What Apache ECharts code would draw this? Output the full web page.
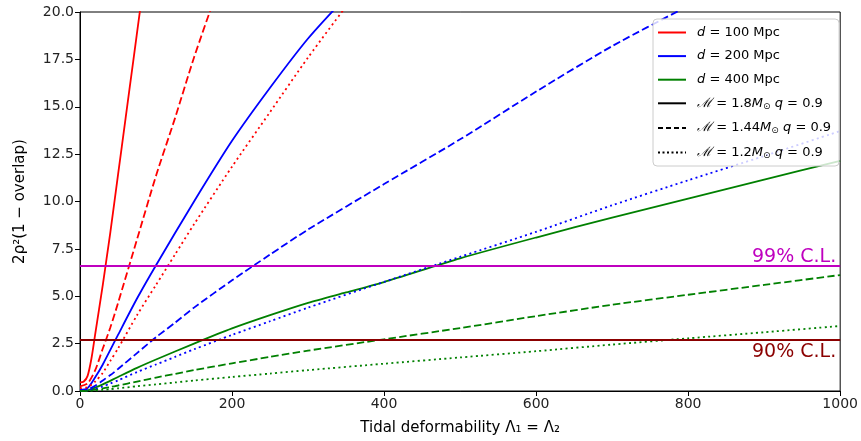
<!DOCTYPE html>
<html>
<head>
<meta charset="utf-8">
<script src="https://cdn.jsdelivr.net/npm/echarts@6/dist/echarts.min.js"></script>
<style>html,body{margin:0;padding:0;background:#fff}#c{width:861px;height:441px}</style>
</head>
<body>
<div id="c"></div>
<script>
// ---- data ----
var xTicks = [0, 200, 400, 600, 800, 1000];
var yTicks = [0, 2.5, 5, 7.5, 10, 12.5, 15, 17.5, 20];

// M = 1.8 Msun (solid)
var redSolidX   = [0, 5, 10, 15, 20, 25, 30, 35, 40, 50, 60, 70, 80];
var redSolidY   = [0.45, 0.5, 0.8, 1.7, 3.0, 4.3, 5.6, 7.0, 8.4, 11.4, 14.4, 17.4, 20.4];
var blueSolidX  = [0, 10, 20, 30, 50, 75, 100, 150, 200, 250, 300, 350];
var blueSolidY  = [0.05, 0.15, 0.72, 1.4, 2.96, 4.88, 6.64, 10.0, 13.2, 16.0, 18.6, 20.8];
var greenSolidX = [0, 10, 20, 30, 50, 75, 100, 150, 200, 250, 300, 350, 400, 500, 600, 700, 800, 900, 1000];
var greenSolidY = [0, 0.03, 0.18, 0.35, 0.74, 1.22, 1.66, 2.5, 3.3, 4.0, 4.65, 5.2, 5.75, 7.0, 8.1, 9.15, 10.15, 11.15, 12.15];

// M = 1.44 Msun (dashed)
var redDashX    = [0, 10, 20, 30, 40, 50, 75, 100, 125, 150, 175];
var redDashY    = [0.25, 0.4, 1.1, 2.24, 3.36, 4.64, 8.0, 11.36, 14.4, 17.6, 20.5];
var blueDashX   = [0, 10, 20, 30, 40, 50, 75, 100, 125, 150, 200, 250, 300, 400, 500, 600, 700, 800];
var blueDashY   = [0.03, 0.08, 0.28, 0.56, 0.84, 1.16, 2.0, 2.84, 3.6, 4.4, 5.84, 7.2, 8.52, 10.92, 13.28, 15.8, 18.2, 20.32];
var greenDashX  = [0, 10, 20, 30, 40, 50, 75, 100, 125, 150, 200, 250, 300, 400, 500, 600, 700, 800, 900, 1000];
var greenDashY  = [0, 0.02, 0.07, 0.14, 0.21, 0.29, 0.5, 0.71, 0.9, 1.1, 1.46, 1.8, 2.13, 2.73, 3.32, 3.95, 4.55, 5.08, 5.6, 6.12];

// M = 1.2 Msun (dotted)
var redDotX     = [0, 10, 20, 30, 40, 50, 75, 100, 125, 150, 200, 250, 300, 350];
var redDotY     = [0.15, 0.2, 0.5, 0.96, 1.6, 2.24, 4.0, 5.6, 7.2, 8.8, 11.84, 14.72, 17.6, 20.3];
var blueDotX    = [0, 10, 20, 30, 40, 50, 75, 100, 125, 150, 200, 250, 300, 400, 500, 600, 700, 800, 900, 1000];
var blueDotY    = [0.02, 0.04, 0.12, 0.24, 0.4, 0.56, 1.0, 1.4, 1.8, 2.2, 2.96, 3.68, 4.4, 5.76, 7.08, 8.4, 9.8, 11.12, 12.4, 13.72];
var greenDotX   = [0, 10, 20, 30, 40, 50, 75, 100, 125, 150, 200, 250, 300, 400, 500, 600, 700, 800, 900, 1000];
var greenDotY   = [0, 0.01, 0.03, 0.06, 0.1, 0.14, 0.25, 0.35, 0.45, 0.55, 0.74, 0.92, 1.1, 1.44, 1.77, 2.1, 2.45, 2.78, 3.1, 3.43];

// confidence levels
var clValues = [6.63, 2.71];
var clLabels = ['99% C.L.', '90% C.L.'];

var legendNames = ['d = 100 Mpc', 'd = 200 Mpc', 'd = 400 Mpc',
                   'M = 1.8 q = 0.9', 'M = 1.44 q = 0.9', 'M = 1.2 q = 0.9'];
var legendRich = [
  '{i|d} = 100 Mpc', '{i|d} = 200 Mpc', '{i|d} = 400 Mpc',
  '{m|ℳ} = 1.8{i|M}{s|⊙} {i|q} = 0.9',
  '{m|ℳ} = 1.44{i|M}{s|⊙} {i|q} = 0.9',
  '{m|ℳ} = 1.2{i|M}{s|⊙} {i|q} = 0.9'
];

// ---- styles ----
var RED = '#ff0000', BLUE = '#0000ff', GREEN = '#008000';
var DASH = [7.5, 3.3], DOT = [2, 3.3];
var LW = 1.8;

function pairs(xs, ys) { return xs.map(function (x, i) { return [x, ys[i]]; }); }
function curve(name, xs, ys, color, type) {
  return {
    name: name, type: 'line', data: pairs(xs, ys), showSymbol: false, symbol: 'none',
    smooth: 0.25, clip: true, silent: true,
    lineStyle: { color: color, width: LW, type: type, cap: 'butt' }, z: 3
  };
}
function legendOnly(name, color, type) {
  return {
    name: name, type: 'line', data: [], symbol: 'none', showSymbol: false,
    itemStyle: { color: color },
    lineStyle: { color: color, width: 2, type: type }
  };
}

var series = [
  curve('r1', redSolidX, redSolidY, RED, 'solid'),
  curve('b1', blueSolidX, blueSolidY, BLUE, 'solid'),
  curve('g1', greenSolidX, greenSolidY, GREEN, 'solid'),
  curve('r2', redDashX, redDashY, RED, DASH),
  curve('b2', blueDashX, blueDashY, BLUE, DASH),
  curve('g2', greenDashX, greenDashY, GREEN, DASH),
  curve('r3', redDotX, redDotY, RED, DOT),
  curve('b3', blueDotX, blueDotY, BLUE, DOT),
  curve('g3', greenDotX, greenDotY, GREEN, DOT),
  {
    name: 'cl', type: 'line', data: [], silent: true,
    markLine: {
      symbol: 'none', silent: true, animation: false,
      data: [
        { yAxis: clValues[0], lineStyle: { color: '#bf00bf', width: LW, type: 'solid' },
          label: { show: true, formatter: clLabels[0], position: 'insideEndTop', color: '#bf00bf',
                   fontSize: 19, fontFamily: 'DejaVu Sans', distance: [4, -1] } },
        { yAxis: clValues[1], lineStyle: { color: '#8b0000', width: LW, type: 'solid' },
          label: { show: true, formatter: clLabels[1], position: 'insideEndBottom', color: '#8b0000',
                   fontSize: 19, fontFamily: 'DejaVu Sans', distance: [4, 3] } }
      ]
    }
  },
  legendOnly(legendNames[0], RED, 'solid'),
  legendOnly(legendNames[1], BLUE, 'solid'),
  legendOnly(legendNames[2], GREEN, 'solid'),
  legendOnly(legendNames[3], '#000', 'solid'),
  legendOnly(legendNames[4], '#000', [5, 3]),
  legendOnly(legendNames[5], '#000', [2, 2.5])
];

var chart = echarts.init(document.getElementById('c'), null, { renderer: 'canvas' });
chart.setOption({
  animation: false,
  backgroundColor: '#fff',
  textStyle: { fontFamily: 'DejaVu Sans' },
  grid: { left: 80, right: 18, top: 12, bottom: 50, show: true, borderColor: '#000', borderWidth: 1, backgroundColor: 'transparent' },
  legend: {
    data: legendNames,
    orient: 'vertical',
    left: 653, top: 19,
    padding: [7, 8, 6, 4],
    itemWidth: 28, itemHeight: 14, itemGap: 10.6,
    backgroundColor: 'rgba(255,255,255,0.8)',
    borderColor: '#cccccc', borderWidth: 1, borderRadius: 4,
    selectedMode: false,
    itemStyle: { opacity: 0, borderWidth: 0 },
    formatter: function (n) { return legendRich[legendNames.indexOf(n)]; },
    textStyle: {
      color: '#000', fontSize: 13, fontFamily: 'DejaVu Sans', padding: [0, 0, 0, 6],
      rich: {
        i: { fontStyle: 'italic', fontSize: 13, fontFamily: 'DejaVu Sans', color: '#000' },
        m: { fontStyle: 'italic', fontSize: 13, fontFamily: 'DejaVu Serif', color: '#000' },
        s: { fontSize: 9, fontFamily: 'DejaVu Sans', color: '#000', padding: [6, 0, 0, 0] }
      }
    }
  },
  xAxis: {
    type: 'value', min: 0, max: 1000, interval: 200,
    name: 'Tidal deformability Λ₁ = Λ₂', nameLocation: 'middle', nameGap: 30,
    nameTextStyle: { fontSize: 15, color: '#000', fontFamily: 'DejaVu Sans' },
    axisLine: { show: true, lineStyle: { color: '#000', width: 1 } },
    axisTick: { show: true, length: 5, inside: false, lineStyle: { color: '#000' } },
    axisLabel: { fontSize: 14, color: '#222', margin: 6,
      formatter: function (v) { return xTicks.indexOf(v) >= 0 ? String(v) : ''; } },
    splitLine: { show: false }
  },
  yAxis: {
    type: 'value', min: 0, max: 20, interval: 2.5,
    name: '2ρ²(1 − overlap)', nameLocation: 'middle', nameGap: 52,
    nameTextStyle: { fontSize: 15, color: '#000', fontFamily: 'DejaVu Sans' },
    axisLine: { show: true, lineStyle: { color: '#000', width: 1 } },
    axisTick: { show: true, length: 5, inside: false, lineStyle: { color: '#000' } },
    axisLabel: { fontSize: 14, color: '#222', margin: 6,
      formatter: function (v) { return yTicks.indexOf(v) >= 0 ? v.toFixed(1) : ''; } },
    splitLine: { show: false }
  },
  series: series
});
</script>
</body>
</html>
